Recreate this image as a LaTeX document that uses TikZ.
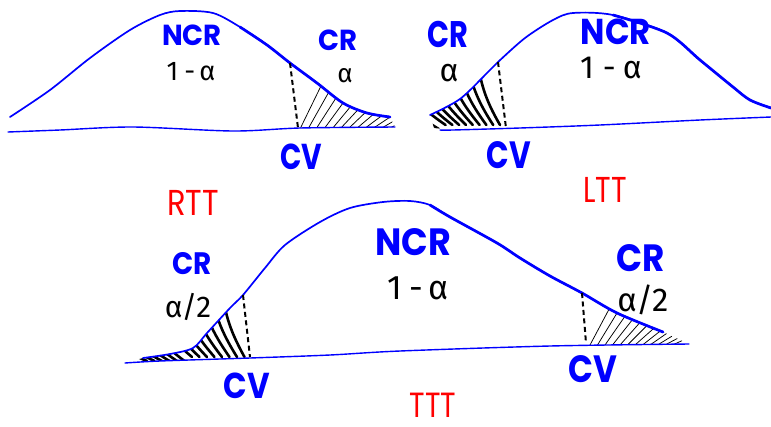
\documentclass[tikz,border=0pt]{standalone}
\usepackage{fontspec}
\usepackage{graphicx}
\newfontfamily\handbold{Poppins}
\newfontfamily\handthin{Fira Sans}
\definecolor{inkblue}{RGB}{0,0,255}
\definecolor{inkred}{RGB}{255,0,0}
\newcommand{\squeeze}[2][0.86]{\scalebox{#1}[1]{#2}}

\begin{document}
\begin{tikzpicture}[x=1pt,y=-1pt,
  curve/.style={draw=inkblue,line width=1.7pt,line cap=round,line join=round},
  heavy/.style={draw=inkblue,line width=2.7pt,line cap=round,line join=round},
  axisline/.style={draw=inkblue,line width=1.4pt,line cap=round},
  cutline/.style={draw=black,line width=2pt,dash pattern=on 5pt off 3.5pt},
  thinhatch/.style={draw=black,line width=0.75pt},
  thickhatch/.style={draw=black,line width=2.6pt,line cap=round},
  region/.style={text=inkblue,font=\handbold\bfseries\fontsize{#1}{#1}\selectfont,inner sep=0pt},
  region/.default=34,
  prob/.style={text=black,font=\handthin\fontsize{#1}{#1}\selectfont,inner sep=0pt},
  prob/.default=26,
  testname/.style={text=inkred,font=\handbold\fontsize{#1}{#1}\selectfont,inner sep=0pt},
  testname/.default=36]
\useasboundingbox (0,0) rectangle (771,426);

% ---------------- right-tailed test ----------------
\begin{scope}
  \clip plot[smooth] coordinates {(10,117) (50,90) (90,58) (130,30) (160,15) (180,11) (213,13) (240,27) (267,45) (290,63) (317,83) (343,103) (367,113) (390,117)}
    -- (395,127) -- (300,128) -- (233,131) -- (8,132) -- cycle;
  \clip (291,50) -- (302,140) -- (420,140) -- (420,50) -- cycle;
  \foreach \i in {0,...,11} {
    \pgfmathsetmacro\xa{300+8*\i}
    \pgfmathsetmacro\ang{64-3.4*\i}
    \draw[thinhatch] (\xa,129) -- ++({70*cos(\ang)},{-70*sin(\ang)});
  }
\end{scope}
\draw[curve] plot[smooth] coordinates {(10,117) (50,90) (90,58) (130,30) (160,15) (180,11) (213,13) (240,27) (267,45) (290,63) (317,83) (343,103) (367,113) (390,117)};
\draw[heavy] plot[smooth] coordinates {(240,27) (267,45) (290,63) (317,83) (343,103) (367,113) (390,117)};
\draw[axisline] plot[smooth] coordinates {(8,132) (60,130) (133,127) (233,131) (300,128) (395,127)};
\coordinate (rtt-top) at (290,63);
\coordinate (rtt-bot) at (298,128);
\draw[cutline] (rtt-top) -- (rtt-bot);
\node[region=29] (rtt-ncr) at (192,35) {\squeeze[0.95]{NCR}};
\node[prob=27] (rtt-p) at (191,72) {1\hspace{6pt}-\hspace{4pt}α};
\node[region=29] (rtt-cr) at (338,40) {\squeeze[0.95]{CR}};
\node[prob=26] (rtt-a) at (345,76) {α};
\node[region=36] (rtt-cv) at (301,157) {\squeeze[0.78]{CV}};
\node[testname] (rtt-name) at (193,203) {\squeeze[0.85]{RTT}};

% ---------------- left-tailed test ----------------
\begin{scope}
  \clip plot[smooth] coordinates {(430,115) (460,99) (488,72) (498,62) (525,38) (553,20) (573,13) (613,15) (667,33) (700,60) (733,87) (750,100) (771,108)}
    -- (771,117) -- (600,125) -- (453,130) -- (434,128) -- cycle;
  \clip (420,40) -- (496,40) -- (505,135) -- (420,135) -- cycle;
  \foreach \i in {0,...,10} {
    \pgfmathsetmacro\xa{432+6.8*\i}
    \pgfmathsetmacro\ang{40+3.2*\i}
    \pgfmathsetmacro\ya{\i<2 ? 129 : 125}
    \draw[thickhatch] (\xa,\ya) to[bend left=12] ++({-75*cos(\ang)},{-75*sin(\ang)});
  }
\end{scope}
\draw[curve] plot[smooth] coordinates {(430,115) (460,99) (488,72) (498,62) (525,38) (553,20) (573,13) (613,15) (667,33) (700,60) (733,87) (750,100) (771,108)};
\draw[heavy] plot[smooth] coordinates {(613,15) (667,33) (700,60) (733,87) (750,100) (771,108)};
\draw[axisline] plot[smooth] coordinates {(440,130) (453,130) (520,128) (600,125) (700,120) (771,117)};
\coordinate (ltt-top) at (498,62);
\coordinate (ltt-bot) at (506,128);
\draw[cutline] (ltt-top) -- (ltt-bot);
\node[region=37] (ltt-cr) at (448,34) {\squeeze[0.78]{CR}};
\node[prob=32] (ltt-a) at (449,73) {α};
\node[region=36] (ltt-ncr) at (616,32) {\squeeze[0.9]{NCR}};
\node[prob=32] (ltt-p) at (611,68) {1\hspace{9pt}-\hspace{7pt}α};
\node[region=38] (ltt-cv) at (509,155) {\squeeze[0.78]{CV}};
\node[testname] (ltt-name) at (605,190) {\squeeze[0.8]{LTT}};

% ---------------- two-tailed test ----------------
\begin{scope}
  \clip plot[smooth] coordinates {(143,358) (170,354) (193,348) (207,333) (230,308) (243,295) (265,268) (285,245) (320,222) (350,208) (383,202) (410,201) (430,205) (450,217) (497,243) (520,258) (550,276) (582,293) (617,313) (663,332)}
    -- (689,344) -- (550,346) -- (400,351) -- (250,358) -- (160,361) -- (125,363) -- cycle;
  \clip (100,270) -- (241,270) -- (249,362) -- (100,362) -- cycle;
  \foreach \i in {0,...,13} {
    \pgfmathsetmacro\xa{147+7.5*\i}
    \pgfmathsetmacro\ang{34+3*\i}
    \pgfmathsetmacro\ya{\i<6 ? 361 : 357}
    \draw[thickhatch] (\xa,\ya) to[bend left=12] ++({-80*cos(\ang)},{-80*sin(\ang)});
  }
\end{scope}
\begin{scope}
  \clip plot[smooth] coordinates {(143,358) (170,354) (193,348) (207,333) (230,308) (243,295) (265,268) (285,245) (320,222) (350,208) (383,202) (410,201) (430,205) (450,217) (497,243) (520,258) (550,276) (582,293) (617,313) (663,332)}
    -- (689,344) -- (550,346) -- (400,351) -- (250,358) -- (160,361) -- (125,363) -- cycle;
  \clip (584,270) -- (590,350) -- (700,350) -- (700,270) -- cycle;
  \foreach \i in {0,...,11} {
    \pgfmathsetmacro\xa{590+7.5*\i}
    \pgfmathsetmacro\ang{62-3.4*\i}
    \draw[thinhatch] (\xa,345) -- ++({70*cos(\ang)},{-70*sin(\ang)});
  }
\end{scope}
\draw[curve] plot[smooth] coordinates {(143,358) (170,354) (193,348) (207,333) (230,308) (243,295) (265,268) (285,245) (320,222) (350,208) (383,202) (410,201) (430,205) (450,217) (497,243) (520,258) (550,276) (582,293) (617,313) (663,332)};
\draw[heavy] plot[smooth] coordinates {(430,205) (450,217) (497,243) (520,258) (550,276) (582,293) (617,313) (663,332)};
\draw[axisline] plot[smooth] coordinates {(125,363) (160,361) (250,358) (330,355) (400,351) (550,346) (689,344)};
\coordinate (ttt-ltop) at (243,295);
\coordinate (ttt-lbot) at (250,357);
\draw[cutline] (ttt-ltop) -- (ttt-lbot);
\coordinate (ttt-rtop) at (582,293);
\coordinate (ttt-rbot) at (586,343);
\draw[cutline] (ttt-rtop) -- (ttt-rbot);
\node[region=31] (ttt-lcr) at (192,264) {\squeeze[0.9]{CR}};
\node[prob=30] (ttt-la) at (188,307) {α\hspace{-1pt}/\hspace{-1pt}2};
\node[region=38] (ttt-ncr) at (413,242) {\squeeze[0.92]{NCR}};
\node[prob=34] (ttt-p) at (418,288) {1\hspace{8pt}-\hspace{5pt}α};
\node[region=38] (ttt-rcr) at (641,258) {\squeeze[0.9]{CR}};
\node[prob=33] (ttt-ra) at (643,300) {α\hspace{-1pt}/\hspace{-1pt}2};
\node[region=36] (ttt-lcv) at (247,386) {\squeeze{CV}};
\node[region=38] (ttt-rcv) at (593,369) {\squeeze{CV}};
\node[testname=35] (ttt-name) at (433,405) {\squeeze[0.82]{TTT}};
\end{tikzpicture}
\end{document}
